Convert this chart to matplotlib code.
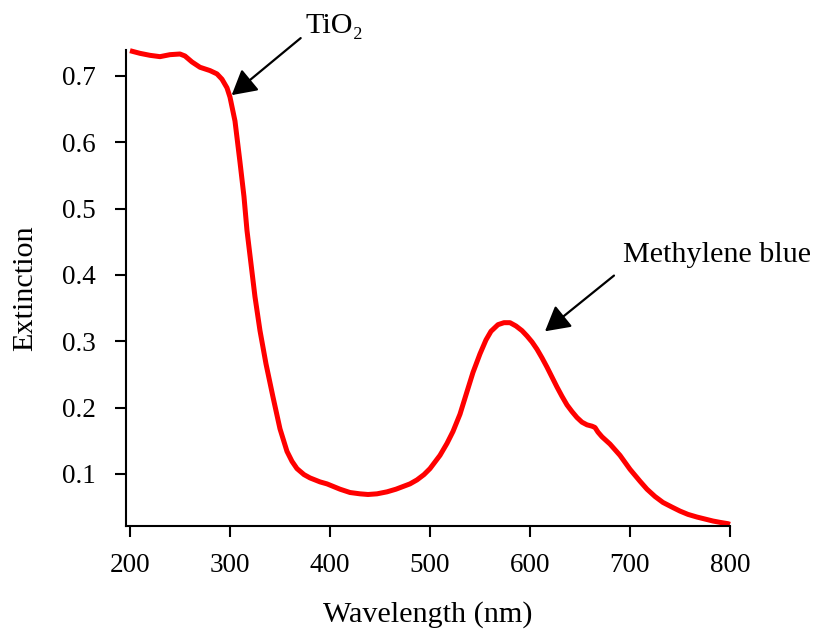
import matplotlib
matplotlib.use("Agg")
import matplotlib.pyplot as plt

# extinction spectrum (wavelength in nm)
wavelength = [200, 210, 220, 230, 240, 250, 255, 262, 270, 280, 287, 292, 297,
              300, 305, 310, 314, 317, 321, 325, 330, 336, 343, 350, 357, 362,
              367, 374, 380, 390, 397, 410, 420, 430, 438, 447, 457, 466, 473,
              480, 487, 494, 500, 510, 517, 523, 530, 537, 543, 550, 556, 561,
              568, 574, 580, 586, 592, 597, 602, 607, 612, 617, 622, 627, 632,
              637, 642, 647, 652, 657, 662, 665, 668, 672, 680, 690, 700, 710,
              717, 725, 733, 742, 750, 758, 767, 775, 783, 790, 798, 800]
extinction = [0.738, 0.734, 0.731, 0.729, 0.732, 0.733, 0.730, 0.721, 0.713,
              0.708, 0.703, 0.695, 0.682, 0.668, 0.632, 0.570, 0.518, 0.467,
              0.417, 0.367, 0.316, 0.266, 0.216, 0.168, 0.134, 0.119, 0.108,
              0.099, 0.094, 0.088, 0.085, 0.077, 0.072, 0.070, 0.069, 0.070,
              0.073, 0.077, 0.081, 0.085, 0.091, 0.099, 0.108, 0.128, 0.146,
              0.164, 0.190, 0.224, 0.253, 0.281, 0.302, 0.315, 0.325, 0.328,
              0.328, 0.323, 0.316, 0.308, 0.299, 0.288, 0.275, 0.261, 0.246,
              0.231, 0.217, 0.204, 0.194, 0.185, 0.178, 0.174, 0.172, 0.170,
              0.163, 0.156, 0.145, 0.128, 0.107, 0.089, 0.077, 0.066, 0.057,
              0.050, 0.044, 0.039, 0.035, 0.032, 0.029, 0.027, 0.025, 0.024]

x_ticks = [200, 300, 400, 500, 600, 700, 800]
y_ticks = [0.1, 0.2, 0.3, 0.4, 0.5, 0.6, 0.7]

plt.rcParams['font.family'] = ['Liberation Serif', 'DejaVu Serif']

fig = plt.figure(figsize=(8.17, 6.3), dpi=100)
ax = fig.add_axes([0.1542, 0.1656, 0.7393, 0.755])

ax.plot(wavelength, extinction, color='#ff0000', lw=3.6, clip_on=False,
        solid_capstyle='butt', solid_joinstyle='round')

ax.set_xlim(196, 800)
ax.set_ylim(0.022, 0.739)
ax.set_xticks(x_ticks)
ax.set_yticks(y_ticks)
ax.set_yticklabels([f'{v:.1f}' for v in y_ticks])

for side in ['top', 'right']:
    ax.spines[side].set_visible(False)
for side in ['left', 'bottom']:
    ax.spines[side].set_linewidth(1.5)

ax.tick_params(axis='both', direction='out', length=8, width=1.5,
               labelsize=19.5)
ax.tick_params(axis='x', pad=12)
ax.tick_params(axis='y', pad=14)

ax.set_xlabel('Wavelength (nm)', fontsize=21.7, labelpad=16)
ax.set_ylabel('Extinction', fontsize=21.7, labelpad=17)

# labels with arrows pointing to the two bands
arrow = dict(arrowstyle='-|>, head_length=0.75, head_width=0.42',
             mutation_scale=20, color='black', lw=1.6, shrinkA=0, shrinkB=0)
ax.annotate('', xy=(301.7, 0.671), xytext=(370.7, 0.757),
            arrowprops=arrow, annotation_clip=False)
ax.text(376, 0.7645, 'TiO\u2082', fontsize=21.7, va='baseline', ha='left',
        clip_on=False)

ax.annotate('', xy=(615, 0.315), xytext=(684, 0.399),
            arrowprops=arrow, annotation_clip=False)
ax.text(693, 0.4195, 'Methylene blue', fontsize=21.7, va='baseline',
        ha='left')

fig.savefig('out.png', dpi=100)
